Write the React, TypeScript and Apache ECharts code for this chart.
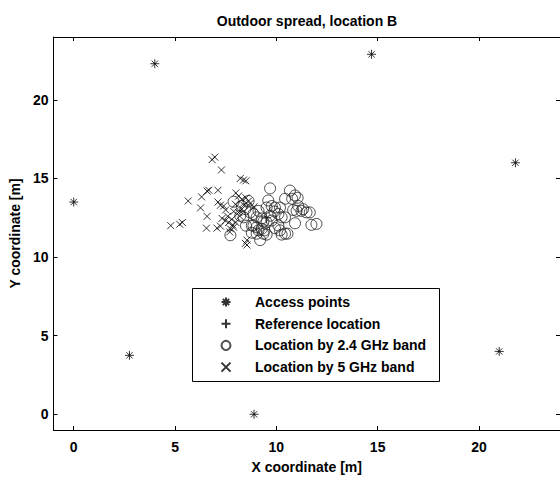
import React, { useEffect, useRef } from "react";
import * as echarts from "echarts";

const accessPoints: number[][] = [
  [4.0, 22.3], [14.7, 22.9], [0.0, 13.5], [21.8, 16.0], [21.0, 4.0], [2.75, 3.75], [8.9, 0.0],
];
const referenceLocation: number[][] = [[9.5, 12.5]];
const band24: number[][] = [
  [7.73, 11.39], [7.89, 13.52], [8.22, 12.63], [8.38, 12.53], [8.3, 13.25], [8.47, 13.05], [8.63, 13.57],
  [8.71, 12.84], [8.79, 12.01], [8.79, 11.55], [8.87, 12.74], [8.87, 12.0], [9.03, 12.53], [9.03, 11.9],
  [9.03, 11.49], [9.12, 12.94], [9.12, 11.7], [9.2, 11.08], [9.28, 12.46], [9.28, 11.8], [9.36, 12.26],
  [9.36, 11.49], [9.41, 11.7], [9.52, 12.21], [9.52, 11.43], [9.52, 13.15], [9.69, 14.37], [9.69, 12.63],
  [9.77, 13.25], [9.77, 12.32], [9.93, 13.15], [9.93, 11.84], [10.1, 12.74], [10.1, 12.01], [10.18, 13.15],
  [10.18, 11.7], [10.26, 12.53], [10.26, 11.43], [10.43, 13.71], [10.43, 12.53], [10.43, 11.49],
  [10.55, 11.49], [10.67, 14.23], [10.78, 13.71], [10.83, 13.0], [10.92, 13.92], [10.92, 12.15],
  [11.0, 12.94], [11.05, 13.77], [11.08, 13.25], [11.24, 12.94], [11.32, 13.05], [11.49, 12.84],
  [11.65, 12.84], [11.73, 12.05], [11.98, 12.11], [9.6, 13.6], [8.5, 12.0], [9.9, 12.9],
];
const band5: number[][] = [
  [4.79, 12.0], [5.23, 12.09], [5.36, 12.2], [5.65, 13.57], [6.26, 13.13], [6.31, 13.83], [6.58, 14.2],
  [6.67, 14.25], [6.58, 12.59], [6.55, 11.84], [6.83, 16.2], [6.96, 16.36], [7.12, 14.25], [7.12, 13.5],
  [7.24, 13.3], [7.4, 13.25], [7.29, 15.54], [7.07, 11.84], [7.24, 11.97], [7.32, 12.46], [7.48, 12.32],
  [7.65, 12.21], [7.84, 12.05], [7.73, 11.8], [7.89, 11.9], [8.0, 14.08], [8.14, 13.88], [8.3, 13.67],
  [8.5, 13.77], [8.63, 13.57], [7.98, 13.36], [8.3, 13.05], [8.14, 12.84], [8.22, 15.0], [8.38, 14.9],
  [8.5, 14.85], [8.55, 11.08], [8.55, 10.77], [8.47, 10.87], [7.6, 12.6], [7.8, 12.4], [8.0, 12.2],
  [7.9, 12.9], [8.2, 12.6], [8.4, 13.3], [8.7, 13.4], [7.5, 13.0], [8.9, 13.2], [7.7, 11.6],
];
const tickValues = [0, 5, 10, 15, 20];
const seriesNames = ["Access points", "Reference location", "Location by 2.4 GHz band", "Location by 5 GHz band"];

const FONT = "'Liberation Sans', Arial, Helvetica, sans-serif";
const ASTERISK = "path://M5,0L5,10M0,5L10,5M1.5,1.5L8.5,8.5M1.5,8.5L8.5,1.5";
const PLUS = "path://M5,0L5,10M0,5L10,5";
const CROSS = "path://M0,0L10,10M0,10L10,0";

const strokeStyle = { color: "transparent", borderColor: "#000", borderWidth: 1 };

export default function App() {
  const ref = useRef<HTMLDivElement>(null);
  useEffect(() => {
    document.body.style.margin = "0";
    const chart = echarts.init(ref.current!, null, { renderer: "svg" });
    const labelStyle = { fontFamily: FONT, fontSize: 14, fontWeight: "bold" as const, color: "#000" };
    const axisBase = {
      type: "value" as const,
      min: -1,
      max: 24,
      splitLine: { show: false },
      axisLine: { show: true, onZero: false, lineStyle: { color: "#000", width: 1 } },
      axisTick: { show: true, inside: true, length: 4, customValues: tickValues, lineStyle: { color: "#000" } },
    };
    chart.setOption({
      animation: false,
      backgroundColor: "#fff",
      graphic: [
        {
          type: "text",
          x: 307,
          y: 21,
          style: { text: "Outdoor spread, location B", fontFamily: FONT, fontSize: 14, fontWeight: "bold", fill: "#000", align: "center", verticalAlign: "middle" },
        },
        {
          type: "rect",
          z: 10,
          shape: { x: 192.5, y: 288.5, width: 247, height: 93 },
          style: { fill: "#fff", stroke: "#000", lineWidth: 1 },
        },
      ],
      grid: { left: 53, top: 37, width: 509, height: 402, containLabel: false },
      legend: {
        orient: "vertical",
        left: 192,
        top: 288,
        z: 20,
        padding: [6, 0, 6, 28.5],
        itemWidth: 9,
        itemHeight: 9,
        itemGap: 5.7,
        data: seriesNames,
        textStyle: { ...labelStyle, lineHeight: 16, padding: [0, 0, 0, 19.5] },
      },
      xAxis: [
        {
          ...axisBase,
          position: "bottom",
          name: "X coordinate [m]",
          nameLocation: "middle",
          nameGap: 30,
          nameTextStyle: labelStyle,
          axisLabel: { ...labelStyle, margin: 10, customValues: tickValues },
        },
        { ...axisBase, position: "top", axisLabel: { show: false } },
      ],
      yAxis: [
        {
          ...axisBase,
          position: "left",
          name: "Y coordinate [m]",
          nameLocation: "middle",
          nameGap: 22,
          nameTextStyle: labelStyle,
          axisLabel: { ...labelStyle, margin: 5, customValues: tickValues },
        },
        { ...axisBase, position: "right", axisLabel: { show: false } },
      ],
      series: [
        { name: seriesNames[0], type: "scatter", data: accessPoints, symbol: ASTERISK, symbolSize: 9, itemStyle: strokeStyle },
        { name: seriesNames[1], type: "scatter", data: referenceLocation, symbol: PLUS, symbolSize: 10, itemStyle: strokeStyle },
        { name: seriesNames[2], type: "scatter", data: band24, symbol: "circle", symbolSize: 11, itemStyle: { ...strokeStyle, borderColor: "#222" } },
        { name: seriesNames[3], type: "scatter", data: band5, symbol: CROSS, symbolSize: 7, itemStyle: strokeStyle },
      ],
    });
    return () => chart.dispose();
  }, []);
  return <div ref={ref} style={{ width: 560, height: 479 }} />;
}
